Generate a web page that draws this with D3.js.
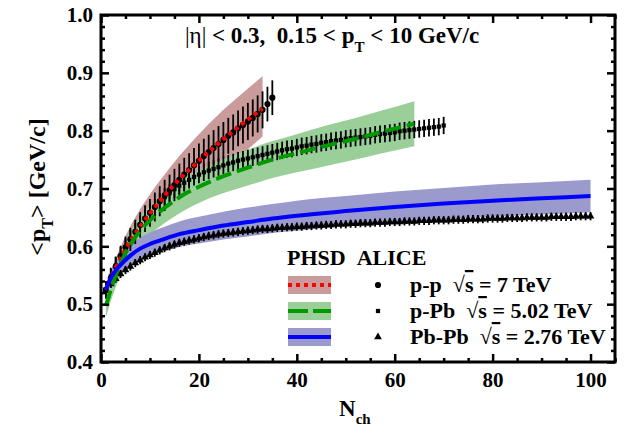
<!DOCTYPE html>
<html>
<head>
<meta charset="utf-8">
<script src="https://cdn.jsdelivr.net/npm/d3@7"></script>
<style>
  body { margin: 0; background: #fff; }
  svg text { font-family: "Liberation Serif", "Times New Roman", serif; font-weight: bold; fill: #000; }
</style>
</head>
<body>
<div id="chart"></div>
<script>
// ALICE data: <pT> per Nch bin
var ppN = d3.range(1, 36);
var ppPt = [0.525, 0.545, 0.565, 0.583, 0.598, 0.612, 0.625, 0.637, 0.648, 0.658,
  0.668, 0.678, 0.688, 0.697, 0.706, 0.715, 0.724, 0.732, 0.740, 0.748,
  0.756, 0.763, 0.770, 0.777, 0.784, 0.791, 0.797, 0.804, 0.810, 0.816,
  0.822, 0.829, 0.836, 0.846, 0.857];
var ppErr = [0.015, 0.016, 0.017, 0.018, 0.019, 0.020, 0.021, 0.022, 0.023, 0.024,
  0.025, 0.026, 0.027, 0.027, 0.028, 0.028, 0.029, 0.029, 0.030, 0.030,
  0.030, 0.030, 0.031, 0.031, 0.031, 0.031, 0.031, 0.031, 0.032, 0.032,
  0.032, 0.032, 0.032, 0.030, 0.030];

var pPbN = d3.range(1, 71);
var pPbPt = [0.525, 0.548, 0.567, 0.584, 0.599, 0.613, 0.626, 0.638, 0.649, 0.659,
  0.668, 0.677, 0.685, 0.692, 0.699, 0.705, 0.710, 0.715, 0.720, 0.724,
  0.728, 0.731, 0.734, 0.737, 0.740, 0.743, 0.745, 0.748, 0.750, 0.752,
  0.754, 0.756, 0.758, 0.760, 0.762, 0.764, 0.766, 0.768, 0.769, 0.771,
  0.773, 0.774, 0.776, 0.777, 0.779, 0.780, 0.782, 0.783, 0.784, 0.786,
  0.787, 0.788, 0.789, 0.790, 0.791, 0.793, 0.794, 0.795, 0.796, 0.797,
  0.799, 0.800, 0.801, 0.802, 0.803, 0.804, 0.805, 0.806, 0.807, 0.809];
var pPbErr = 0.015;

var pbpbN = d3.range(1, 101);
var pbpbPt = [0.523, 0.535, 0.544, 0.552, 0.559, 0.565, 0.571, 0.576, 0.581, 0.585,
  0.589, 0.593, 0.597, 0.600, 0.603, 0.606, 0.608, 0.610, 0.612, 0.614,
  0.616, 0.618, 0.619, 0.621, 0.622, 0.623, 0.624, 0.625, 0.626, 0.627,
  0.628, 0.629, 0.630, 0.630, 0.631, 0.632, 0.632, 0.633, 0.633, 0.634,
  0.634, 0.635, 0.635, 0.636, 0.636, 0.637, 0.637, 0.638, 0.638, 0.638,
  0.639, 0.639, 0.640, 0.640, 0.640, 0.641, 0.641, 0.641, 0.642, 0.642,
  0.642, 0.643, 0.643, 0.643, 0.644, 0.644, 0.644, 0.645, 0.645, 0.645,
  0.645, 0.646, 0.646, 0.646, 0.647, 0.647, 0.647, 0.647, 0.648, 0.648,
  0.648, 0.648, 0.649, 0.649, 0.649, 0.649, 0.650, 0.650, 0.650, 0.650,
  0.650, 0.651, 0.651, 0.651, 0.651, 0.651, 0.652, 0.652, 0.652, 0.652];
var pbpbErr = 0.007;

// PHSD curves with uncertainty bands
var phsdPPN = [1, 2, 3, 5, 7, 10, 13, 16, 20, 24, 28, 33];
var phsdPPPt = [0.525, 0.545, 0.563, 0.595, 0.622, 0.657, 0.688, 0.716, 0.748, 0.778, 0.806, 0.838];
var phsdPPHi = [0.530, 0.556, 0.578, 0.618, 0.650, 0.690, 0.724, 0.756, 0.794, 0.828, 0.858, 0.894];
var phsdPPLo = [0.520, 0.534, 0.548, 0.572, 0.594, 0.624, 0.652, 0.676, 0.702, 0.728, 0.754, 0.790];

var phsdPPbN = [1, 2, 3, 4, 5, 6, 8, 10, 12, 14, 17, 20, 24, 30, 35, 40, 46, 52, 57, 64];
var phsdPPbPt = [0.497, 0.525, 0.550, 0.570, 0.588, 0.603, 0.627, 0.645, 0.660, 0.673,
  0.690, 0.703, 0.718, 0.736, 0.750, 0.761, 0.774, 0.786, 0.797, 0.812];
var phsdPPbHi = [0.517, 0.545, 0.571, 0.592, 0.610, 0.626, 0.651, 0.670, 0.686, 0.700,
  0.718, 0.731, 0.747, 0.767, 0.782, 0.794, 0.809, 0.822, 0.834, 0.851];
var phsdPPbLo = [0.477, 0.505, 0.529, 0.548, 0.566, 0.580, 0.603, 0.620, 0.634, 0.646,
  0.662, 0.675, 0.689, 0.705, 0.718, 0.728, 0.739, 0.750, 0.760, 0.773];

var phsdPbPbN = [1, 2, 3, 4, 6, 8, 10, 13, 16, 20, 25, 30, 35, 40, 50, 60, 70, 80, 90, 100];
var phsdPbPbPt = [0.525, 0.545, 0.558, 0.568, 0.584, 0.596, 0.604, 0.613, 0.621, 0.628,
  0.636, 0.642, 0.648, 0.653, 0.661, 0.668, 0.674, 0.679, 0.683, 0.687];
var phsdPbPbHi = [0.533, 0.557, 0.572, 0.584, 0.602, 0.615, 0.624, 0.634, 0.643, 0.651,
  0.660, 0.667, 0.673, 0.679, 0.687, 0.695, 0.701, 0.707, 0.711, 0.715];
var phsdPbPbLo = [0.517, 0.533, 0.544, 0.552, 0.566, 0.577, 0.584, 0.592, 0.599, 0.605,
  0.612, 0.617, 0.623, 0.627, 0.635, 0.641, 0.647, 0.651, 0.655, 0.659];

var xTicks = [0, 20, 40, 60, 80, 100];
var yTicks = [0.4, 0.5, 0.6, 0.7, 0.8, 0.9, 1.0];

var width = 626;
var height = 428;
var margin = { top: 15, right: 11, bottom: 66, left: 101 };
var chartW = width - margin.left - margin.right;
var chartH = height - margin.top - margin.bottom;

var xScale = d3.scaleLinear().domain([0, 105]).range([0, chartW]);
var yScale = d3.scaleLinear().domain([0.4, 1.0]).range([chartH, 0]);

var svg = d3.select("#chart").append("svg")
  .attr("width", width)
  .attr("height", height)
  .style("font-family", "'Liberation Serif', 'Times New Roman', serif");

svg.append("defs").append("clipPath").attr("id", "plotClip")
  .append("rect").attr("width", chartW).attr("height", chartH);

var chart = svg.append("g")
  .attr("transform", "translate(" + margin.left + "," + margin.top + ")");

var plot = chart.append("g").attr("clip-path", "url(#plotClip)");

function zipBand(ns, hi, lo) {
  return ns.map(function(n, i) { return { n: n, hi: hi[i], lo: lo[i] }; });
}
function zipLine(ns, vs) {
  return ns.map(function(n, i) { return { n: n, v: vs[i] }; });
}

var area = d3.area()
  .x(function(d) { return xScale(d.n); })
  .y0(function(d) { return yScale(d.lo); })
  .y1(function(d) { return yScale(d.hi); })
  .curve(d3.curveMonotoneX);

var line = d3.line()
  .x(function(d) { return xScale(d.n); })
  .y(function(d) { return yScale(d.v); })
  .curve(d3.curveMonotoneX);

var models = [
  { band: zipBand(phsdPPN, phsdPPHi, phsdPPLo), line: zipLine(phsdPPN, phsdPPPt), fill: "#c99b9b", stroke: "#ff0000", dash: "4,4" },
  { band: zipBand(phsdPPbN, phsdPPbHi, phsdPPbLo), line: zipLine(phsdPPbN, phsdPPbPt), fill: "#9acf9a", stroke: "#009a00", dash: "16,6" },
  { band: zipBand(phsdPbPbN, phsdPbPbHi, phsdPbPbLo), line: zipLine(phsdPbPbN, phsdPbPbPt), fill: "#9a9acc", stroke: "#0000ff", dash: null }
];

// Bands
plot.selectAll(".band").data(models).enter().append("path")
  .attr("class", "band")
  .attr("d", function(d) { return area(d.band); })
  .attr("fill", function(d) { return d.fill; });

// Data series
var series = [
  { points: zipLine(ppN, ppPt), err: function(d, i) { return ppErr[i]; }, symbol: d3.symbolCircle, size: 30 },
  { points: zipLine(pPbN, pPbPt), err: function() { return pPbErr; }, symbol: d3.symbolSquare, size: 18 },
  { points: zipLine(pbpbN, pbpbPt), err: function() { return pbpbErr; }, symbol: d3.symbolTriangle, size: 26 }
];

series.forEach(function(s) {
  var g = plot.append("g");
  g.selectAll("line").data(s.points).enter().append("line")
    .attr("x1", function(d) { return xScale(d.n); })
    .attr("x2", function(d) { return xScale(d.n); })
    .attr("y1", function(d, i) { return yScale(d.v - s.err(d, i)); })
    .attr("y2", function(d, i) { return yScale(d.v + s.err(d, i)); })
    .attr("stroke", "#000")
    .attr("stroke-width", 1.8);
  g.selectAll("path").data(s.points).enter().append("path")
    .attr("transform", function(d) { return "translate(" + xScale(d.n) + "," + yScale(d.v) + ")"; })
    .attr("d", d3.symbol().type(s.symbol).size(s.size))
    .attr("fill", "#000");
});

// Model curves
plot.selectAll(".model").data(models).enter().append("path")
  .attr("class", "model")
  .attr("d", function(d) { return line(d.line); })
  .attr("fill", "none")
  .attr("stroke", function(d) { return d.stroke; })
  .attr("stroke-width", 4)
  .attr("stroke-dasharray", function(d) { return d.dash; });

// Axes (ticks inward on all four sides)
var xMinor = d3.range(0, 106, 5).filter(function(v) { return v % 20 !== 0; });
var yMinor = d3.range(0.42, 1.0, 0.02).filter(function(v) { return Math.abs(v * 10 - Math.round(v * 10)) > 0.01; });

function styleAxis(g) {
  g.attr("font-family", null);
  g.select(".domain").remove();
  g.selectAll(".tick line").attr("stroke", "#000").attr("stroke-width", 2.5);
  g.selectAll(".tick text").style("font-size", "21px");
}

chart.append("g").attr("transform", "translate(0," + chartH + ")")
  .call(d3.axisBottom(xScale).tickValues(xTicks).tickSize(-8).tickPadding(10).tickFormat(d3.format("d")))
  .call(styleAxis)
  .selectAll(".tick text").attr("dy", "0.71em");
chart.append("g").attr("transform", "translate(0," + chartH + ")")
  .call(d3.axisBottom(xScale).tickValues(xMinor).tickSize(-4).tickFormat(""))
  .call(styleAxis);
chart.append("g")
  .call(d3.axisTop(xScale).tickValues(xTicks).tickSize(-8).tickFormat(""))
  .call(styleAxis);
chart.append("g")
  .call(d3.axisTop(xScale).tickValues(xMinor).tickSize(-4).tickFormat(""))
  .call(styleAxis);

chart.append("g")
  .call(d3.axisLeft(yScale).tickValues(yTicks).tickSize(-8).tickPadding(8).tickFormat(d3.format(".1f")))
  .call(styleAxis);
chart.append("g")
  .call(d3.axisLeft(yScale).tickValues(yMinor).tickSize(-4).tickFormat(""))
  .call(styleAxis);
chart.append("g").attr("transform", "translate(" + chartW + ",0)")
  .call(d3.axisRight(yScale).tickValues(yTicks).tickSize(-8).tickFormat(""))
  .call(styleAxis);
chart.append("g").attr("transform", "translate(" + chartW + ",0)")
  .call(d3.axisRight(yScale).tickValues(yMinor).tickSize(-4).tickFormat(""))
  .call(styleAxis);

chart.append("rect")
  .attr("width", chartW)
  .attr("height", chartH)
  .attr("fill", "none")
  .attr("stroke", "#000")
  .attr("stroke-width", 3);

// Title
var title = chart.append("text")
  .attr("x", 84)
  .attr("y", 28)
  .style("font-size", "23px");
title.append("tspan").style("font-weight", "normal").text("|\u03b7|");
title.append("tspan").text(" < 0.3,\u00a0\u00a00.15 < p");
title.append("tspan").attr("dy", 9).style("font-size", "15px").text("T");
title.append("tspan").attr("dy", -9).text(" < 10 GeV/c");

// Axis labels
var xLabel = svg.append("text")
  .attr("x", 339)
  .attr("y", 416)
  .style("font-size", "23px");
xLabel.append("tspan").text("N");
xLabel.append("tspan").attr("dy", 8).style("font-size", "15px").text("ch");

var yLabel = svg.append("text")
  .attr("transform", "translate(45,187) rotate(-90)")
  .attr("text-anchor", "middle")
  .style("font-size", "24px");
yLabel.append("tspan").text("<p");
yLabel.append("tspan").attr("dy", 8).style("font-size", "16px").text("T");
yLabel.append("tspan").attr("dy", -8).text(">\u00a0[GeV/c]");

// Legend
var legend = svg.append("g");
legend.append("text")
  .attr("x", 287)
  .attr("y", 265)
  .style("font-size", "22px")
  .text("PHSD\u00a0\u00a0ALICE");

var legendNames = ["p-p", "p-Pb", "Pb-Pb"];
var legendEnergies = ["7", "5.02", "2.76"];

var rows = legend.selectAll(".row").data(models).enter().append("g")
  .attr("class", "row")
  .attr("transform", function(d, i) { return "translate(0," + (285 + i * 26) + ")"; });

rows.append("rect")
  .attr("x", 288).attr("y", -9)
  .attr("width", 43).attr("height", 18)
  .attr("fill", function(d) { return d.fill; });
rows.append("line")
  .attr("x1", 288).attr("x2", 331)
  .attr("stroke", function(d) { return d.stroke; })
  .attr("stroke-width", 4)
  .attr("stroke-dasharray", function(d, i) { return i === 1 ? "20,5" : d.dash; });
rows.append("path")
  .attr("transform", "translate(378,0)")
  .attr("d", function(d, i) { return d3.symbol().type(series[i].symbol).size(series[i].size)(); })
  .attr("fill", "#000");

var rowText = rows.append("text")
  .attr("x", 410)
  .attr("y", 7)
  .style("font-size", "22px");
rowText.append("tspan").text(function(d, i) { return legendNames[i] + "\u00a0\u00a0\u221a"; });
rowText.append("tspan").style("text-decoration", "overline").text("s");
rowText.append("tspan").text(function(d, i) { return " = " + legendEnergies[i] + " TeV"; });
</script>
</body>
</html>
